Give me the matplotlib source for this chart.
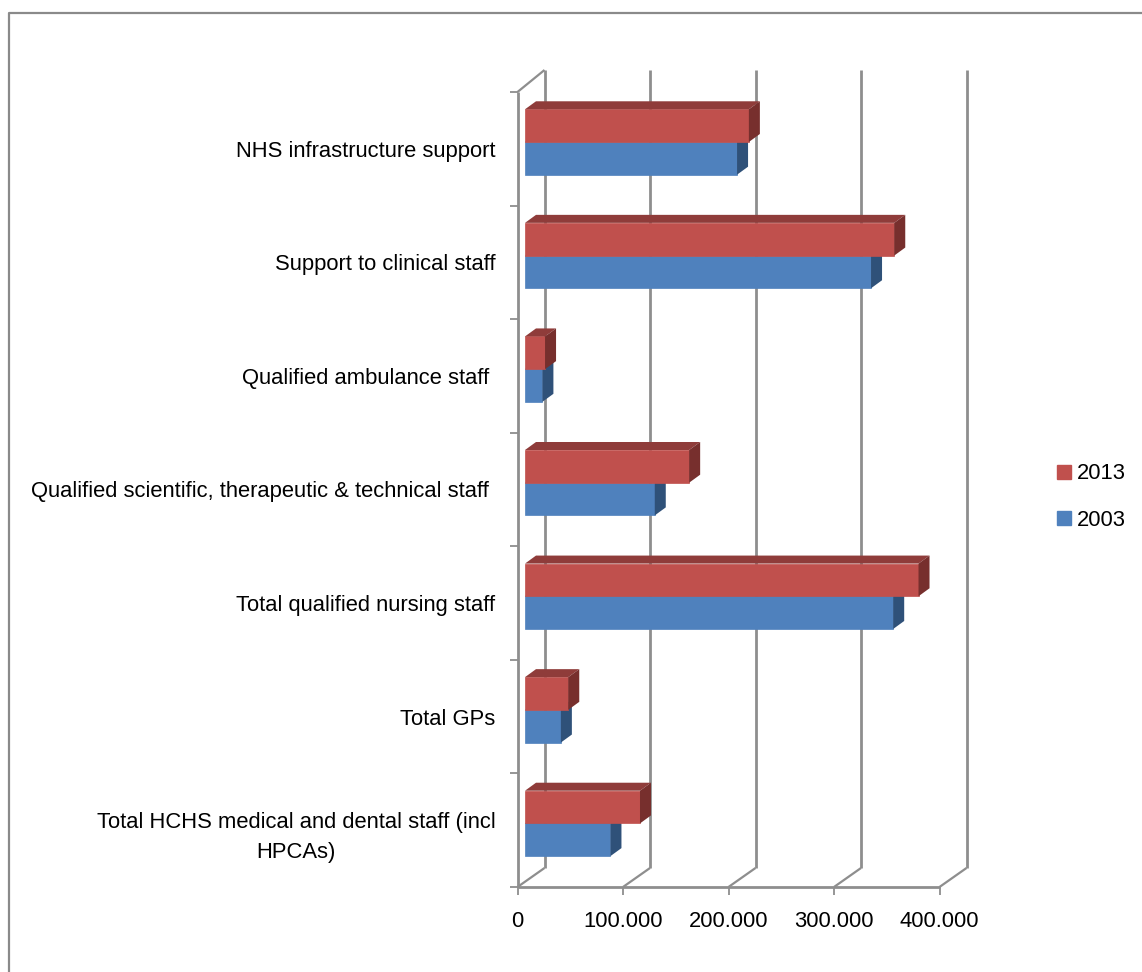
import matplotlib
matplotlib.use("Agg")
import matplotlib.pyplot as plt
from matplotlib.patches import Patch

plt.rcParams["font.family"] = ["Liberation Sans", "DejaVu Sans"]

# Chart data, bottom category first
categories = [
    "Total HCHS medical and dental staff (incl\nHPCAs)",
    "Total GPs",
    "Total qualified nursing staff",
    "Qualified scientific, therapeutic & technical staff ",
    "Qualified ambulance staff ",
    "Support to clinical staff",
    "NHS infrastructure support",
]
values_2003 = [81000, 34000, 349000, 123000, 16500, 328000, 201000]
values_2013 = [109000, 41000, 373000, 155600, 19000, 350000, 212200]
x_ticks = [0, 100000, 200000, 300000, 400000]
x_tick_labels = ["0", "100.000", "200.000", "300.000", "400.000"]

# Colours
red, red_top, red_side = "#C0504D", "#8F3C3A", "#772F2D"
blue, blue_top, blue_side = "#4F81BD", "#3B6190", "#2F5179"
grid_color = "#8E8E8E"
label_size = 15.8

W, H = 1142, 972
fig = plt.figure(figsize=(W / 100, H / 100), dpi=100, facecolor="white")

# Front plane of the fake 3D box
left, right, top, bottom = 517.5, 939.5, 92, 887
ax = fig.add_axes([left / W, 1 - bottom / H, (right - left) / W, (bottom - top) / H])
ax.set_xlim(0, 400000)
ax.set_ylim(-0.5, len(categories) - 0.5)
ax.patch.set_alpha(0)
for s in ax.spines.values():
    s.set_visible(False)

# size of one pixel in data units
ux = 400000 / (right - left)
uy = len(categories) / (bottom - top)


def line(xs, ys, lw=2.0):
    ax.plot(xs, ys, color=grid_color, lw=lw, clip_on=False, solid_capstyle="butt", zorder=1)


# Box: back wall lines, floor diagonals, left wall
box_dx, floor_dy, top_dy = 27 * ux, 19 * uy, 22 * uy
ymin, ymax = ax.get_ylim()
for t in x_ticks:
    line([t + box_dx, t + box_dx], [ymin + floor_dy, ymax + top_dy])
    line([t, t + box_dx], [ymin, ymin + floor_dy], 1.6)
line([0, box_dx], [ymax, ymax + top_dy], 1.6)
line([0, 0], [ymin, ymax])
line([0, 400000], [ymin, ymin])

# Ticks
ax.set_xticks(x_ticks)
ax.set_xticklabels(x_tick_labels, fontsize=label_size)
ax.tick_params(axis="x", length=5.5, width=1.3, color=grid_color, pad=12)
ax.set_yticks(range(len(categories)))
ax.set_yticklabels(categories, fontsize=label_size, ha="right", multialignment="center",
                   linespacing=1.6)
ax.tick_params(axis="y", length=0, pad=16)
ax.set_yticks([i - 0.5 for i in range(len(categories) + 1)], minor=True)
ax.tick_params(axis="y", which="minor", length=5.5, width=1.3, color=grid_color)

# Bars sit inside the box, shifted from the front plane
base = 7.5 * ux
shift = 6.8 * uy
bar_h = 32.7 * uy
depth_x, depth_y = 11 * ux, 8 * uy


def bars_3d(values, y_low, face, top_c, side):
    ax.barh(y_low, values, height=bar_h, left=base, align="edge", color=face, zorder=3,
            edgecolor=face, linewidth=0.5)
    for v, y in zip(values, y_low):
        x1 = base + v
        y1 = y + bar_h
        ax.fill([base, x1, x1 + depth_x, base + depth_x], [y1, y1, y1 + depth_y, y1 + depth_y],
                color=top_c, lw=0, zorder=3, clip_on=False)
        ax.fill([x1, x1 + depth_x, x1 + depth_x, x1], [y, y + depth_y, y1 + depth_y, y1],
                color=side, lw=0, zorder=3, clip_on=False)


pos = list(range(len(categories)))
bars_3d(values_2003, [p + shift - bar_h for p in pos], blue, blue_top, blue_side)
bars_3d(values_2013, [p + shift for p in pos], red, red_top, red_side)

# Legend
handles = [Patch(color=red, label="2013"), Patch(color=blue, label="2003")]
fig.legend(handles=handles, loc="center left", bbox_to_anchor=(1046 / W, 1 - 497 / H),
           frameon=False, fontsize=label_size, handlelength=0.63, handleheight=0.6,
           handletextpad=0.27, labelspacing=1.15, borderpad=0.5, borderaxespad=0)

# Outer border of the picture
fig.add_artist(plt.Line2D([8.5 / W, 8.5 / W, 1], [0, 1 - 13.5 / H, 1 - 13.5 / H],
                          color="#8A8A8A", lw=1.6, transform=fig.transFigure))

fig.savefig("out.png", dpi=100)
